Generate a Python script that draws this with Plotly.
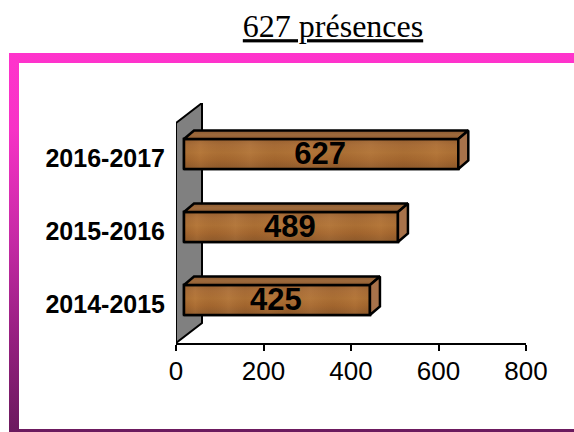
import plotly.graph_objects as go

seasons = ["2014-2015", "2015-2016", "2016-2017"]
presences = [425, 489, 627]
x_ticks = [0, 200, 400, 600, 800]
title_text = "627 présences"

W, H = 574, 432
PLOT_L, PLOT_R, PLOT_T, PLOT_B = 176, 526, 103, 343
X_MAX = 800
ROW_PX = 73.0
PX_X = X_MAX / (PLOT_R - PLOT_L)
PX_Y = 1 / ROW_PX
Y_MIN = -(PLOT_B - 304) * PX_Y
Y_MAX = (304 - PLOT_T) * PX_Y

FRONT_DX = 8 * PX_X
FACE_DX = 10 * PX_X
FACE_DY = 8.5 * PX_Y
HALF_H = 15 * PX_Y
CENTRE = 4 * PX_Y
LABEL_DX = -1 * PX_X
LABEL_DY = -2 * PX_Y
WALL_DX = 26 * PX_X
WALL_DY = 20 * PX_Y

FRONT_STOPS = [[0, "#9A6232"], [0.2, "#AA6E38"], [0.45, "#AF7236"], [0.7, "#A5672F"], [1, "#8E5A2C"]]
TOP_STOPS = [[0, "#8A5A32"], [0.5, "#9E6A3C"], [1, "#8F5C30"]]
SIDE_COLOR = "#A8724A"
MOTTLE_STOPS = [[0, "rgba(60,30,0,0.05)"], [0.06, "rgba(255,190,110,0.08)"], [0.14, "rgba(60,30,0,0.03)"],
                [0.24, "rgba(255,210,150,0.07)"], [0.33, "rgba(60,30,0,0.04)"], [0.45, "rgba(255,190,110,0.06)"],
                [0.56, "rgba(60,30,0,0.05)"], [0.68, "rgba(255,210,150,0.06)"], [0.8, "rgba(60,30,0,0.04)"],
                [0.92, "rgba(255,190,110,0.07)"], [1, "rgba(60,30,0,0.04)"]]
OUTLINE = 2.5

fig = go.Figure()

fig.add_trace(go.Scatter(
    x=[9, W, W, 9, 9], y=[53, 53, H, H, 53], mode="lines", line=dict(width=0),
    fill="toself", xaxis="x", yaxis="y", hoverinfo="skip", showlegend=False,
    fillgradient=dict(type="vertical", start=53, stop=H,
                      colorscale=[[0, "#FF33CC"], [0.2, "#F732C6"], [0.5, "#C42AA4"], [0.75, "#961F80"], [1, "#6B1A5E"]])))
fig.add_trace(go.Scatter(
    x=[19, W + 5, W + 5, 19, 19], y=[63, 63, 429, 429, 63], mode="lines", line=dict(width=0),
    fill="toself", fillcolor="white", xaxis="x", yaxis="y", hoverinfo="skip", showlegend=False))

rows = list(range(len(seasons)))

fig.add_trace(go.Bar(
    y=rows, x=presences, base=FRONT_DX, orientation="h", width=2 * HALF_H,
    marker=dict(color="#A86C36", line=dict(color="black", width=OUTLINE)),
    xaxis="x2", yaxis="y2", hoverinfo="skip", showlegend=False,
    offset=-HALF_H + CENTRE))

for i, v in zip(rows, presences):
    x0, x1 = FRONT_DX, FRONT_DX + v
    yb, yt = i + CENTRE - HALF_H, i + CENTRE + HALF_H
    fig.add_trace(go.Scatter(
        x=[x0, x1, x1, x0, x0], y=[yb, yb, yt, yt, yb], mode="lines", line=dict(width=0), fill="toself",
        fillgradient=dict(type="vertical", start=yt, stop=yb, colorscale=FRONT_STOPS),
        xaxis="x2", yaxis="y2", hoverinfo="skip", showlegend=False))
    fig.add_trace(go.Scatter(
        x=[x0, x1, x1, x0, x0], y=[yb, yb, yt, yt, yb], mode="lines",
        line=dict(color="black", width=OUTLINE), fill="toself",
        fillgradient=dict(type="horizontal", start=x0, stop=x1, colorscale=MOTTLE_STOPS),
        xaxis="x2", yaxis="y2", hoverinfo="skip", showlegend=False))
    fig.add_trace(go.Scatter(
        x=[x0, x0 + FACE_DX, x1 + FACE_DX, x1, x0], y=[yt, yt + FACE_DY, yt + FACE_DY, yt, yt],
        mode="lines", line=dict(color="black", width=OUTLINE), fill="toself",
        fillgradient=dict(type="vertical", start=yt + FACE_DY, stop=yt, colorscale=TOP_STOPS),
        xaxis="x2", yaxis="y2", hoverinfo="skip", showlegend=False))
    fig.add_trace(go.Scatter(
        x=[x1, x1 + FACE_DX, x1 + FACE_DX, x1, x1], y=[yb, yb + FACE_DY, yt + FACE_DY, yt, yb],
        mode="lines", line=dict(color="black", width=OUTLINE), fill="toself", fillcolor=SIDE_COLOR,
        xaxis="x2", yaxis="y2", hoverinfo="skip", showlegend=False))

fig.add_trace(go.Scatter(
    x=[FRONT_DX + v / 2 + LABEL_DX for v in presences], y=[i + CENTRE + LABEL_DY for i in rows],
    text=[str(v) for v in presences], mode="text", textposition="middle center",
    textfont=dict(family="Liberation Sans", size=31, color="black", weight="bold"),
    xaxis="x2", yaxis="y2", hoverinfo="skip", showlegend=False))

fig.update_layout(
    template="none",
    width=W, height=H, autosize=False,
    margin=dict(l=0, r=0, t=0, b=0),
    paper_bgcolor="white", plot_bgcolor="rgba(0,0,0,0)",
    barmode="overlay",
    title=dict(text=f"<u>{title_text}</u>", x=333 / W, y=1 - 26 / H, xref="paper", yref="paper",
               xanchor="center", yanchor="middle",
               font=dict(family="Liberation Serif", size=32, color="black")),
    xaxis=dict(domain=[0, 1], range=[0, W], visible=False, fixedrange=True, automargin=False),
    yaxis=dict(domain=[0, 1], range=[H, 0], visible=False, fixedrange=True, automargin=False),
    xaxis2=dict(domain=[PLOT_L / W, PLOT_R / W], range=[0, X_MAX], anchor="y2", automargin=False,
                tickmode="array", tickvals=x_ticks, ticks="outside", ticklen=6, tickwidth=2,
                ticklabelstandoff=-2,
                tickcolor="black", showline=True, linecolor="black", linewidth=2,
                showgrid=False, zeroline=False,
                tickfont=dict(family="Liberation Sans", size=26, color="black")),
    yaxis2=dict(domain=[1 - PLOT_B / H, 1 - PLOT_T / H], range=[Y_MIN, Y_MAX], anchor="x2", automargin=False,
                tickmode="array", tickvals=rows, ticktext=seasons,
                ticks="outside", ticklen=5, tickcolor="rgba(0,0,0,0)",
                showline=False, showgrid=False, zeroline=False,
                tickfont=dict(family="Liberation Sans", size=25, color="black", weight="bold")),
    shapes=[dict(type="path", xref="x2", yref="y2", layer="below",
                 path=f"M 0 {Y_MIN} L {WALL_DX} {Y_MIN + WALL_DY} L {WALL_DX} {Y_MAX} L 0 {Y_MAX - WALL_DY} Z",
                 fillcolor="#808080", line=dict(color="black", width=2))],
)

fig.write_html("out.html", config={"displayModeBar": False},
               post_script="document.body.style.margin='0';document.documentElement.style.overflow='hidden';")
